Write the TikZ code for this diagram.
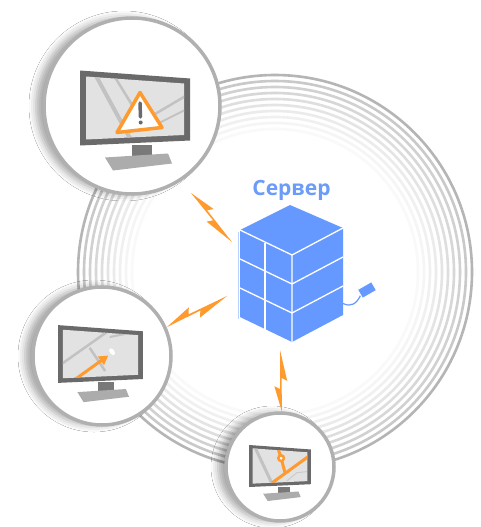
\documentclass[tikz,border=0pt]{standalone}
\usepackage{fontspec}
\newfontfamily\labelfont{Open Sans}
\usetikzlibrary{arrows.meta,positioning,calc,shadows.blur}
\definecolor{srvblue}{HTML}{6699FF}
\definecolor{lblblue}{HTML}{6B9CF7}
\definecolor{zaporange}{HTML}{FF9A2E}
\definecolor{rimgray}{HTML}{B0B0B0}
\definecolor{framegray}{HTML}{6A6A6A}
\definecolor{screengray}{HTML}{E2E2E2}
\definecolor{roadgray}{HTML}{C2C2C2}
\newcommand\screenquad{(-49,-31.5) -- (49,-24.5) -- (49,27) -- (-49,31.5) -- cycle}
\tikzset{bubble/.style={circle,draw=rimgray,line width=3.5pt,fill=white,inner sep=0pt,
  blur shadow={shadow xshift=-8pt,shadow yshift=0pt,shadow blur radius=7pt,shadow opacity=35}},
  zap/.style={fill=zaporange,draw=none,to path={
    -- ($(\tikztostart)!0.4342!14.68:(\tikztotarget)$)
    -- ($(\tikztostart)!0.3705!3.09:(\tikztotarget)$)
    -- (\tikztotarget)
    -- ($(\tikztostart)!0.5099!-11.31:(\tikztotarget)$)
    -- ($(\tikztostart)!0.5501!-1.04:(\tikztotarget)$) -- cycle}},
  road/.style={roadgray,line width=#1},
  edge/.style={white,line width=1.3pt,line join=round},
  monitor/.pic={
    \fill[framegray] (-55,-37.5) -- (55,-29.5) -- (55,32.5) -- (-55,37.5) -- cycle;
    \fill[screengray] \screenquad;
    \fill[framegray!90] (-3,37) rectangle (17,50);
    \fill[gray!65] (-30,49.5) -- (33,45.5) -- (37,55.5) -- (-22,62.5) -- cycle;}}

\begin{document}
\begin{tikzpicture}[x=1pt,y=-1pt]
\useasboundingbox[fill=white] (0,0) rectangle (480,527);
% rings round the server
\coordinate (ring) at (275,272);
\foreach \r/\g in {197/58,191/42,185/36,179/31,173/26,167/21,161/16,155/12,149/8,143/5}
  \draw[gray!\g,line width=2.6pt] (ring) circle[radius=\r];
% client bubbles
\node[bubble,minimum size=176] (top) at (132,106) {};
\node[bubble,minimum size=138] (left) at (102,356) {};
\node[bubble,minimum size=108] (bottom) at (280,467) {};
\node[minimum width=103,minimum height=137,inner sep=0pt] (srv) at (291.5,273.5) {};
\node[font=\labelfont\bfseries\fontsize{21}{24}\selectfont,text=lblblue,above=1pt of srv] (name) {Сервер};
% alert monitor
\pic at ([shift={(3,2)}]top.center) {monitor};
\begin{scope}[shift={([shift={(3,2)}]top.center)}]
  \begin{scope}
    \clip \screenquad;
    \draw[road=4pt] (-40,-34) -- (-3,34);
    \draw[road=2.5pt] (-22,-34) -- (2,5);
    \draw[road=2.5pt] (20,6) -- (54,-14);
    \draw[road=2pt] (22,16) -- (54,0);
  \end{scope}
  \draw[zaporange,line width=3.5pt,fill=white,line join=round] (5,-15.5) -- (27,19.5) -- (-18,24.5) -- cycle;
  \draw[framegray,line width=3.5pt,line cap=round] (5,-5) -- (5.5,9);
  \fill[framegray] (5.7,14.5) circle[radius=2];
\end{scope}
% route monitor
\pic[scale=0.77] at ([shift={(-1.5,-2)}]left.center) {monitor};
\begin{scope}[shift={([shift={(-1.5,-2)}]left.center)},scale=0.77]
  \clip \screenquad;
  \draw[road=2.5pt] (-52,14) -- (16,-34);
  \draw[road=2.5pt] (-14,-8) -- (6,22);
  \draw[road=2pt] (12,-22) -- (52,-30);
  \draw[zaporange,line width=3pt,-{Triangle[length=9pt,width=10pt]}] (-40,38) -- (10,2);
  \fill[white,rotate around={35:(15,-3)}] (15,-3) ellipse[x radius=3,y radius=5];
\end{scope}
% map monitor
\pic[scale=0.56] at ([shift={(0,-1)}]bottom.center) {monitor};
\begin{scope}[shift={([shift={(0,-1)}]bottom.center)},scale=0.56]
  \clip \screenquad;
  \draw[road=3pt] (-45,-34) -- (-14,32);
  \draw[gray!40,line width=1pt] (12,27) -- (30,12) -- (48,10);
  \draw[zaporange,line width=3pt] (-14,30) -- (52,-18) (9,12) -- (2,-14) -- (-5,-36);
  \draw[zaporange,line width=2.5pt,fill=white] (2,-14) circle[radius=5];
\end{scope}
% server cabinet
\begin{scope}[shift={(srv.center)}]
  \fill[srvblue] (-51.5,-43.5) -- (-1.5,-68.5) -- (51.5,-45.5) -- (51.5,41.5) -- (0.5,68.5) -- (-51.5,43.5) -- cycle;
  \draw[edge] (-51.5,-43.5) -- (0.5,-18.5) -- (51.5,-45.5) (0.5,-18.5) -- (0.5,68.5);
  \foreach \d in {29,58}
    \draw[edge] (-51.5,-43.5+\d) -- (0.5,-18.5+\d) -- (51.5,-45.5+\d);
  \draw[edge] (-26.5,-31) -- (-26.5,56);
  \draw[srvblue!45,line width=0.8pt] (-53.5,-42) -- (-53.5,45);
  \draw[srvblue,line width=1.2pt] (51.5,30) .. controls (60,34) and (65,30) .. (69,22);
  \node[fill=srvblue,draw=white,line width=0.8pt,rotate=30,minimum width=16,minimum height=10,inner sep=0pt] (plug) at (75.5,16.5) {};
\end{scope}
% links
\coordinate (z1a) at (191,193);
\coordinate (z1b) at (232,242);
\coordinate (z2a) at (167,327);
\coordinate (z2b) at (227,296);
\coordinate (z3a) at (282,412);
\coordinate (z3b) at (280,350);
\fill[zap] (z1a) to (z1b);
\fill[zap] (z2a) to (z2b);
\fill[zap] (z3a) to (z3b);
\end{tikzpicture}
\end{document}
